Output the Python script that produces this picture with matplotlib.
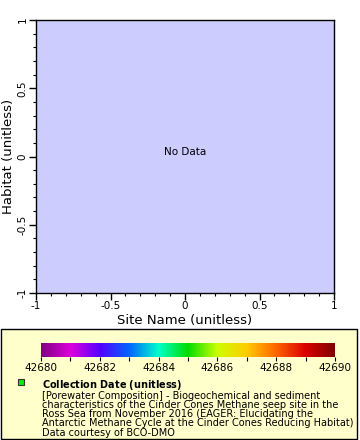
import matplotlib
matplotlib.use("Agg")
import matplotlib.pyplot as plt
import numpy as np
from matplotlib.colors import LinearSegmentedColormap
from matplotlib.patches import Rectangle
from matplotlib.ticker import MultipleLocator

# Data / labels
x_limits = [-1, 1]
y_limits = [-1, 1]
major_ticks = [-1, -0.5, 0, 0.5, 1]
major_tick_labels = ["-1", "-0.5", "0", "0.5", "1"]
cbar_range = [42680, 42690]
cbar_ticks = [42680, 42681, 42682, 42683, 42684, 42685, 42686, 42687, 42688, 42689, 42690]
cbar_labels = ["42680", "", "42682", "", "42684", "", "42686", "", "42688", "", "42690"]
palette_colors = ["#800080", "#dd00dd", "#5500ff", "#0066ff", "#00ffcc", "#00dd00",
                  "#ccff00", "#ffcc00", "#ff6600", "#dd0000", "#800000"]
x_label = "Site Name (unitless)"
y_label = "Habitat (unitless)"
no_data_text = "No Data"
legend_title = "Collection Date (unitless)"
legend_lines = [
    "[Porewater Composition] - Biogeochemical and sediment",
    "characteristics of the Cinder Cones Methane seep site in the",
    "Ross Sea from November 2016 (EAGER: Elucidating the",
    "Antarctic Methane Cycle at the Cinder Cones Reducing Habitat)",
    "Data courtesy of BCO-DMO",
]

W, H = 360, 440
fig = plt.figure(figsize=(W / 100, H / 100), dpi=100)
plt.rcParams['font.family'] = ['DejaVu Sans']
plt.rcParams['mathtext.fontset'] = 'dejavusans'

def fx(px):
    return px / W

def fy(py):
    return 1 - py / H

# Main axes
ax = fig.add_axes([fx(36), fy(293), fx(334 - 36), (293 - 20) / H])
ax.set_facecolor("#ccccff")
ax.set_xlim(*x_limits)
ax.set_ylim(*y_limits)
ax.set_xticks(major_ticks)
ax.set_xticklabels(major_tick_labels, fontsize=7.5)
ax.set_yticks(major_ticks)
ax.set_yticklabels(major_tick_labels, fontsize=7.5, rotation=90, va="center")
ax.xaxis.set_minor_locator(MultipleLocator(0.1))
ax.yaxis.set_minor_locator(MultipleLocator(0.1))
ax.tick_params(which="major", length=5, width=1, direction="out", pad=1)
ax.tick_params(which="minor", length=2.5, width=0.8, direction="out")
ax.tick_params(top=False, right=False, which="both")
for s in ax.spines.values():
    s.set_linewidth(1)
ax.set_xlabel(x_label, fontsize=9.5, labelpad=2)
ax.set_ylabel(y_label, fontsize=9.5, labelpad=2)
ax.text(0, 0, no_data_text, ha="center", va="bottom", fontsize=7.5)

# Legend box (behind everything else)
fig.patches.append(Rectangle((fx(1), fy(439)), fx(357 - 1), (439 - 329) / H,
                             transform=fig.transFigure, facecolor="#ffffcc",
                             edgecolor="black", linewidth=1, zorder=-10))

# Colorbar
cmap = LinearSegmentedColormap.from_list("rainbow2", palette_colors)
cax = fig.add_axes([fx(41), fy(357), fx(335 - 41), (357 - 343) / H])
cax.set_zorder(5)
cax.patch.set_alpha(0)
grad = np.linspace(cbar_range[0], cbar_range[1], 256).reshape(1, -1)
cax.imshow(grad, aspect="auto", cmap=cmap,
           extent=[cbar_range[0], cbar_range[1], 0, 1])
cax.set_xlim(*cbar_range)
cax.set_ylim(0, 1)
cax.set_yticks([])
cax.set_xticks(cbar_ticks)
cax.set_xticklabels(cbar_labels, fontsize=7.5)
cax.tick_params(axis="x", length=3, width=0.8, pad=1)
for s in cax.spines.values():
    s.set_visible(False)

# Legend marker and text (one multi-line text block)
fig.patches.append(Rectangle((fx(18), fy(385)), 6 / W, 6 / H,
                             transform=fig.transFigure, facecolor="#00ee00",
                             edgecolor="#333333", linewidth=0.8, zorder=6))
title_math = r"$\mathbf{" + legend_title.replace(" ", r"\ ") + "}$"
block = "\n".join([title_math] + legend_lines)
fig.text(fx(42), fy(377.5), block, fontsize=7, va="top", ha="left",
         linespacing=0.9, zorder=6)

fig.savefig("out.png", dpi=100)
